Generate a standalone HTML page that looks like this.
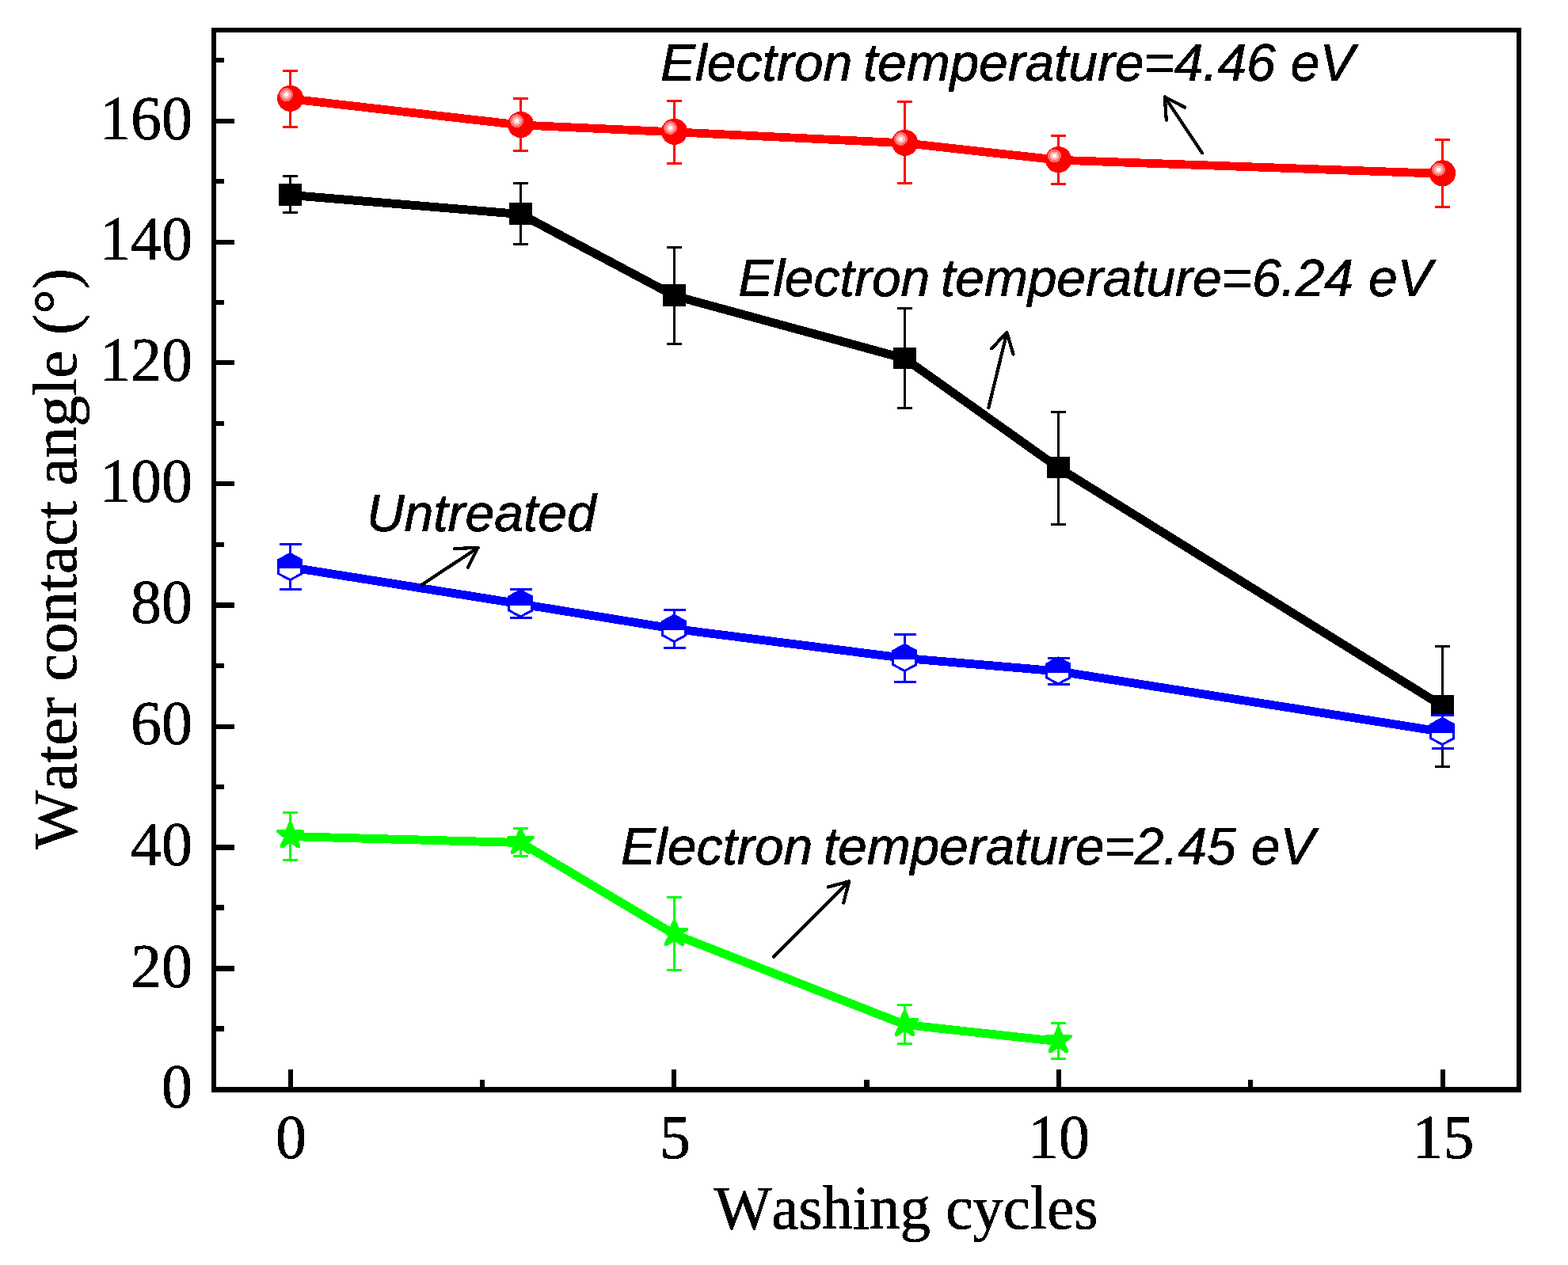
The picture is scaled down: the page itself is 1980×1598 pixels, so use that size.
<!DOCTYPE html>
<html lang="en"><head><meta charset="utf-8"><title>Water contact angle vs washing cycles</title>
<style>
html,body{margin:0;padding:0;background:#fff;}
body{width:1980px;height:1598px;overflow:hidden;}
svg{display:block;}
text{font-kerning:none;font-variant-ligatures:none;}
.serif{font-family:"Liberation Serif","DejaVu Serif",serif;fill:#000;stroke:#000;stroke-width:0.5px;stroke-linejoin:round;}
.sans{font-family:"Liberation Sans","DejaVu Sans",sans-serif;font-style:italic;fill:#000;stroke:#000;stroke-width:0.6px;stroke-linejoin:round;}
</style></head><body>
<svg width="1980" height="1598" viewBox="0 0 1980 1598">
<defs><filter id="bin" filterUnits="userSpaceOnUse" x="0" y="0" width="1980" height="1598" color-interpolation-filters="sRGB"><feComponentTransfer><feFuncA type="discrete" tableValues="0 0 1 1 1"/></feComponentTransfer></filter></defs>
<rect x="0" y="0" width="1980" height="1598" fill="#fff"/>
<g id="s-black" shape-rendering="crispEdges">
<path d="M366.5 222.5V268.5M357 222.5H376M357 268.5H376M657.5 231.5V308.5M648 231.5H667M648 308.5H667M851.5 312.5V434.5M842 312.5H861M842 434.5H861M1142.5 389.5V515.5M1133 389.5H1152M1133 515.5H1152M1336.5 520V662.5M1327 520H1346M1327 662.5H1346M1821.5 816V968.5M1812 816H1831M1812 968.5H1831" stroke="#000" stroke-width="3" fill="none"/>
<path d="M366.7 246.4L657.7 270.6L851.7 373.7L1142.7 453L1336.7 591L1821.7 892" stroke="#000" stroke-width="10.9" fill="none" stroke-linejoin="round"/>
<rect x="352.1" y="232" width="28.8" height="27.8" fill="#000"/>
<rect x="643.1" y="256.2" width="28.8" height="27.8" fill="#000"/>
<rect x="837.1" y="359.3" width="28.8" height="27.8" fill="#000"/>
<rect x="1128.1" y="438.6" width="28.8" height="27.8" fill="#000"/>
<rect x="1322.1" y="576.6" width="28.8" height="27.8" fill="#000"/>
<rect x="1807.1" y="877.6" width="28.8" height="27.8" fill="#000"/>
</g>
<g id="s-red" shape-rendering="crispEdges">
<path d="M366.5 89.5V160.5M357 89.5H376M357 160.5H376M657.5 124.5V190.5M648 124.5H667M648 190.5H667M851.5 127.5V206.5M842 127.5H861M842 206.5H861M1142.5 128.5V231.5M1133 128.5H1152M1133 231.5H1152M1336.5 171.5V232.5M1327 171.5H1346M1327 232.5H1346M1821.5 176.5V261.5M1812 176.5H1831M1812 261.5H1831" stroke="#f00" stroke-width="3" fill="none"/>
<path d="M366.7 124.9L657.7 158L851.7 166.8L1142.7 180.8L1336.7 202.2L1821.7 219.4" stroke="#f00" stroke-width="10.7" fill="none" stroke-linejoin="round"/>
<circle cx="366.6" cy="124.4" r="16.6" fill="#f00"/>
<circle cx="361.5" cy="119.6" r="8.5" fill="#ff6e6e"/>
<circle cx="361.5" cy="119.6" r="5.5" fill="#ffb6b6"/>
<circle cx="361.5" cy="119.6" r="2.6" fill="#fffafa"/>
<circle cx="657.6" cy="157.5" r="16.6" fill="#f00"/>
<circle cx="652.5" cy="152.7" r="8.5" fill="#ff6e6e"/>
<circle cx="652.5" cy="152.7" r="5.5" fill="#ffb6b6"/>
<circle cx="652.5" cy="152.7" r="2.6" fill="#fffafa"/>
<circle cx="851.6" cy="166.3" r="16.6" fill="#f00"/>
<circle cx="846.5" cy="161.5" r="8.5" fill="#ff6e6e"/>
<circle cx="846.5" cy="161.5" r="5.5" fill="#ffb6b6"/>
<circle cx="846.5" cy="161.5" r="2.6" fill="#fffafa"/>
<circle cx="1142.6" cy="180.3" r="16.6" fill="#f00"/>
<circle cx="1137.5" cy="175.5" r="8.5" fill="#ff6e6e"/>
<circle cx="1137.5" cy="175.5" r="5.5" fill="#ffb6b6"/>
<circle cx="1137.5" cy="175.5" r="2.6" fill="#fffafa"/>
<circle cx="1336.6" cy="201.7" r="16.6" fill="#f00"/>
<circle cx="1331.5" cy="196.9" r="8.5" fill="#ff6e6e"/>
<circle cx="1331.5" cy="196.9" r="5.5" fill="#ffb6b6"/>
<circle cx="1331.5" cy="196.9" r="2.6" fill="#fffafa"/>
<circle cx="1821.6" cy="218.9" r="16.6" fill="#f00"/>
<circle cx="1816.5" cy="214.1" r="8.5" fill="#ff6e6e"/>
<circle cx="1816.5" cy="214.1" r="5.5" fill="#ffb6b6"/>
<circle cx="1816.5" cy="214.1" r="2.6" fill="#fffafa"/>
</g>
<g id="s-blue" shape-rendering="crispEdges">
<path d="M366.5 687.5V744.8M353 687.5H381M353 744.8H381M657.5 744.5V780.5M644 744.5H672M644 780.5H672M851.5 770.2V818.5M838 770.2H866M838 818.5H866M1142.5 801.2V861.2M1129 801.2H1157M1129 861.2H1157M1336.5 831.2V864.8M1323 831.2H1351M1323 864.8H1351M1821.5 903.6V945.5M1808 903.6H1836M1808 945.5H1836" stroke="#00f" stroke-width="3" fill="none"/>
<path d="M366.7 716.6L657.7 763L851.7 794.4L1142.7 831.5L1336.7 848L1821.7 924.5" stroke="#00f" stroke-width="10.8" fill="none" stroke-linejoin="round"/>
<polygon points="366.3,697.7 382.3,706.5 382.3,725.7 366.3,734.3 350.3,725.7 350.3,706.5" fill="#00f"/>
<polygon points="353.3,718.1 379.3,718.1 379.3,723.91 366.3,730.89 353.3,723.91" fill="#fff"/>
<polygon points="657.3,744.1 673.3,752.9 673.3,772.1 657.3,780.7 641.3,772.1 641.3,752.9" fill="#00f"/>
<polygon points="644.3,764.5 670.3,764.5 670.3,770.31 657.3,777.29 644.3,770.31" fill="#fff"/>
<polygon points="851.3,775.5 867.3,784.3 867.3,803.5 851.3,812.1 835.3,803.5 835.3,784.3" fill="#00f"/>
<polygon points="838.3,795.9 864.3,795.9 864.3,801.71 851.3,808.69 838.3,801.71" fill="#fff"/>
<polygon points="1142.3,812.6 1158.3,821.4 1158.3,840.6 1142.3,849.2 1126.3,840.6 1126.3,821.4" fill="#00f"/>
<polygon points="1129.3,833 1155.3,833 1155.3,838.81 1142.3,845.79 1129.3,838.81" fill="#fff"/>
<polygon points="1336.3,829.1 1352.3,837.9 1352.3,857.1 1336.3,865.7 1320.3,857.1 1320.3,837.9" fill="#00f"/>
<polygon points="1323.3,849.5 1349.3,849.5 1349.3,855.31 1336.3,862.29 1323.3,855.31" fill="#fff"/>
<polygon points="1821.3,905.6 1837.3,914.4 1837.3,933.6 1821.3,942.2 1805.3,933.6 1805.3,914.4" fill="#00f"/>
<polygon points="1808.3,926 1834.3,926 1834.3,931.81 1821.3,938.79 1808.3,931.81" fill="#fff"/>
</g>
<g id="s-green" shape-rendering="crispEdges">
<path d="M366.5 1026V1086M357 1026H376M357 1086H376M657.5 1046.5V1081.5M648 1046.5H667M648 1081.5H667M851.5 1133.7V1225.5M842 1133.7H861M842 1225.5H861M1142.5 1269.3V1318.3M1133 1269.3H1152M1133 1318.3H1152M1336.5 1292.2V1337.6M1327 1292.2H1346M1327 1337.6H1346" stroke="#0f0" stroke-width="3" fill="none"/>
<path d="M366.7 1056.6L657.7 1064.5L851.7 1180.4L1142.7 1294.4L1336.7 1315.6" stroke="#0f0" stroke-width="10.9" fill="none" stroke-linejoin="round"/>
<polygon points="365.1,1037.3 360.8,1047.8 350.3,1047.8 348.95,1049.3 348.95,1051.9 350.6,1051.9 358.15,1059.05 354,1067.1 353.95,1070.9 358,1070.9 366.5,1064.5 375,1070.9 379.05,1070.9 379,1067.1 374.85,1059.05 382.4,1051.9 384.05,1051.9 384.05,1049.3 382.7,1047.8 372.2,1047.8 367.9,1037.3" fill="#0f0"/>
<polygon points="656.1,1045.2 651.8,1055.7 641.3,1055.7 639.95,1057.2 639.95,1059.8 641.6,1059.8 649.15,1066.95 645,1075 644.95,1078.8 649,1078.8 657.5,1072.4 666,1078.8 670.05,1078.8 670,1075 665.85,1066.95 673.4,1059.8 675.05,1059.8 675.05,1057.2 673.7,1055.7 663.2,1055.7 658.9,1045.2" fill="#0f0"/>
<polygon points="850.1,1161.1 845.8,1171.6 835.3,1171.6 833.95,1173.1 833.95,1175.7 835.6,1175.7 843.15,1182.85 839,1190.9 838.95,1194.7 843,1194.7 851.5,1188.3 860,1194.7 864.05,1194.7 864,1190.9 859.85,1182.85 867.4,1175.7 869.05,1175.7 869.05,1173.1 867.7,1171.6 857.2,1171.6 852.9,1161.1" fill="#0f0"/>
<polygon points="1141.1,1275.1 1136.8,1285.6 1126.3,1285.6 1124.95,1287.1 1124.95,1289.7 1126.6,1289.7 1134.15,1296.85 1130,1304.9 1129.95,1308.7 1134,1308.7 1142.5,1302.3 1151,1308.7 1155.05,1308.7 1155,1304.9 1150.85,1296.85 1158.4,1289.7 1160.05,1289.7 1160.05,1287.1 1158.7,1285.6 1148.2,1285.6 1143.9,1275.1" fill="#0f0"/>
<polygon points="1335.1,1296.3 1330.8,1306.8 1320.3,1306.8 1318.95,1308.3 1318.95,1310.9 1320.6,1310.9 1328.15,1318.05 1324,1326.1 1323.95,1329.9 1328,1329.9 1336.5,1323.5 1345,1329.9 1349.05,1329.9 1349,1326.1 1344.85,1318.05 1352.4,1310.9 1354.05,1310.9 1354.05,1308.3 1352.7,1306.8 1342.2,1306.8 1337.9,1296.3" fill="#0f0"/>
</g>
<g id="axes" fill="#000" shape-rendering="crispEdges">
<rect x="267" y="35" width="6" height="1345"/>
<rect x="1915" y="35" width="6" height="1345"/>
<rect x="267" y="35" width="1654" height="6"/>
<rect x="267" y="1373" width="1654" height="7"/>
<rect x="273" y="1296" width="10" height="7"/>
<rect x="273" y="1220" width="23" height="7"/>
<rect x="273" y="1143" width="10" height="7"/>
<rect x="273" y="1067" width="23" height="7"/>
<rect x="273" y="991" width="10" height="6"/>
<rect x="273" y="915" width="23" height="6"/>
<rect x="273" y="838" width="10" height="6"/>
<rect x="273" y="761" width="23" height="7"/>
<rect x="273" y="685" width="10" height="6"/>
<rect x="273" y="608" width="23" height="6"/>
<rect x="273" y="532" width="10" height="6"/>
<rect x="273" y="455" width="23" height="6"/>
<rect x="273" y="379" width="10" height="6"/>
<rect x="273" y="303" width="23" height="6"/>
<rect x="273" y="226" width="10" height="6"/>
<rect x="273" y="150" width="23" height="6"/>
<rect x="273" y="73" width="10" height="6"/>
<rect x="364" y="1351" width="6" height="22"/>
<rect x="606" y="1364" width="6" height="9"/>
<rect x="848" y="1351" width="6" height="22"/>
<rect x="1091" y="1364" width="7" height="9"/>
<rect x="1334" y="1351" width="6" height="22"/>
<rect x="1576" y="1364" width="6" height="9"/>
<rect x="1819" y="1351" width="6" height="22"/>
</g>
<g class="serif" font-size="78" filter="url(#bin)">
<g font-size="79" text-rendering="geometricPrecision">
<text transform="translate(243 1399.1) scale(0.9873 1)" text-anchor="end">0</text>
<text transform="translate(243 1247.1) scale(0.9873 1)" text-anchor="end">20</text>
<text transform="translate(243 1093.1) scale(0.9873 1)" text-anchor="end">40</text>
<text transform="translate(243 940.1) scale(0.9873 1)" text-anchor="end">60</text>
<text transform="translate(243 787.1) scale(0.9873 1)" text-anchor="end">80</text>
<text transform="translate(243 634.1) scale(0.9873 1)" text-anchor="end">100</text>
<text transform="translate(243 481.1) scale(0.9873 1)" text-anchor="end">120</text>
<text transform="translate(243 328.1) scale(0.9873 1)" text-anchor="end">140</text>
<text transform="translate(243 176.1) scale(0.9873 1)" text-anchor="end">160</text>
<text transform="translate(367.5 1463.1) scale(0.9873 1)" text-anchor="middle">0</text>
<text transform="translate(852.5 1463.1) scale(0.9873 1)" text-anchor="middle">5</text>
<text transform="translate(1337 1463.1) scale(0.9873 1)" text-anchor="middle">10</text>
<text transform="translate(1822.5 1463.1) scale(0.9873 1)" text-anchor="middle">15</text>
</g>
<text transform="translate(1144.0 1552.4) scale(0.986 1)" text-anchor="middle">Washing cycles</text>
<text transform="translate(96.0 706.2) rotate(-90) scale(1.0107 1.015)" text-anchor="middle">Water contact angle (°)</text>
</g>
<g class="sans" font-size="66" filter="url(#bin)">
<text x="834" y="102" xml:space="preserve">Electron <tspan x="1089.9" letter-spacing="-0.13">temperature=4.46 </tspan><tspan x="1629.7">eV</tspan></text>
<text x="932.2" y="374.1" xml:space="preserve">Electron <tspan x="1188.1" letter-spacing="-0.13">temperature=6.24 </tspan><tspan x="1727.9">eV</tspan></text>
<text x="462.9" y="671.1">Untreated</text>
<text x="784" y="1092" xml:space="preserve">Electron <tspan x="1039.9" letter-spacing="-0.13">temperature=2.45 </tspan><tspan x="1579.7">eV</tspan></text>
</g>
<g id="arrows" shape-rendering="crispEdges" stroke="#000" stroke-width="4.2" fill="none" stroke-linecap="round" stroke-linejoin="round">
<path d="M1517.94 193.17L1470.8 122.55M1496.23 135.61L1470.8 122.55L1472.79 151.71"/>
<path d="M1248.34 514.93L1271.46 420.12M1251.96 440.35L1271.46 420.12L1279.56 447.43"/>
<path d="M532.93 738.55L603.55 691.79M574 693.11L603.55 691.79L590.79 716.73"/>
<path d="M976.91 1208.69L1072.29 1113.41M1045.55 1120.5L1072.29 1113.41L1065.2 1140.54"/>
</g>
</svg>
</body></html>
